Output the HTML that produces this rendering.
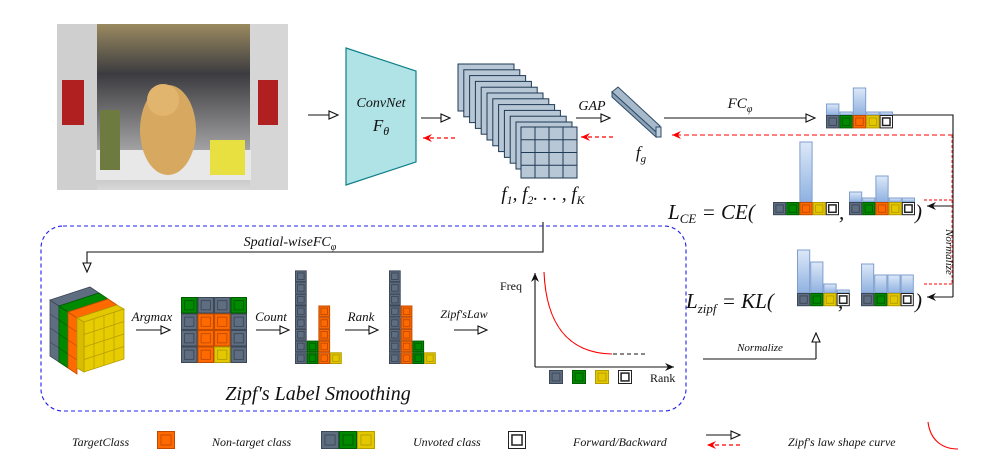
<!DOCTYPE html>
<html><head><meta charset="utf-8">
<style>
html,body{margin:0;padding:0;background:#fff;}
svg{display:block;}
text{font-family:"Liberation Serif",serif;font-style:italic;fill:#111;}
.up{font-style:normal;}
</style></head>
<body>
<svg id="svg" width="989" height="463" viewBox="0 0 989 463" xmlns="http://www.w3.org/2000/svg">
<defs>
<marker id="oa" markerWidth="12" markerHeight="10" refX="10" refY="5" orient="auto" markerUnits="userSpaceOnUse"><path d="M1,1 L10,5 L1,9 Z" fill="#fff" stroke="#111" stroke-width="1.1"/></marker>
<marker id="ra" markerWidth="10" markerHeight="10" refX="9" refY="5" orient="auto" markerUnits="userSpaceOnUse"><path d="M9,5 L0,1 L3,5 L0,9 Z" fill="#f00"/></marker>
<marker id="ba" markerWidth="10" markerHeight="10" refX="9" refY="5" orient="auto" markerUnits="userSpaceOnUse"><path d="M9,5 L0,1 L3,5 L0,9 Z" fill="#111"/></marker>
<linearGradient id="barg" x1="0" y1="0" x2="0" y2="1"><stop offset="0" stop-color="#dce8f8"/><stop offset="1" stop-color="#8fb1e0"/></linearGradient>
<linearGradient id="car" x1="0" y1="0" x2="0" y2="1"><stop offset="0" stop-color="#9a8a60"/><stop offset="0.3" stop-color="#3c3c40"/><stop offset="1" stop-color="#d8d8d8"/></linearGradient>
</defs>

<g>
<rect x="57" y="24" width="231" height="166" fill="url(#car)"/>
<rect x="57" y="24" width="40" height="166" fill="#cfcfcf"/>
<rect x="250" y="24" width="38" height="166" fill="#d6d6d6"/>
<rect x="62" y="80" width="22" height="45" fill="#b02020"/>
<rect x="258" y="80" width="20" height="45" fill="#b02020"/>
<rect x="96" y="150" width="155" height="30" fill="#e8e8e8"/>
<ellipse cx="168" cy="130" rx="28" ry="45" fill="#d7a860"/>
<circle cx="163" cy="100" r="16" fill="#e2b56e"/>
<rect x="210" y="140" width="35" height="35" fill="#e8e040"/>
<rect x="100" y="110" width="20" height="60" fill="#6d7a40"/>
</g>

<line x1="308" y1="115" x2="338" y2="115" stroke="#111" stroke-width="1.1" marker-end="url(#oa)"/>
<polygon points="346,48 416,71 416,162 346,185" fill="#b0e3e6" stroke="#0e8088" stroke-width="1.2"/>
<text x="381" y="107" font-size="14" text-anchor="middle">ConvNet</text>
<text x="381" y="131" font-size="17" text-anchor="middle">F<tspan font-size="12" dy="4">θ</tspan></text>
<line x1="421" y1="118" x2="450" y2="118" stroke="#111" stroke-width="1.1" marker-end="url(#oa)"/>
<line x1="455" y1="138" x2="423" y2="138" stroke="#f00" stroke-width="1.2" stroke-dasharray="4,3" marker-end="url(#ra)"/>

<g id="maps"></g>
<text x="543" y="200" font-size="19" text-anchor="middle">f<tspan font-size="12" dy="4">1</tspan><tspan dy="-4">, f</tspan><tspan font-size="12" dy="4">2</tspan><tspan dy="-4">. . . , f</tspan><tspan font-size="12" dy="4">K</tspan></text>

<text x="592" y="110" font-size="14" text-anchor="middle">GAP</text>
<line x1="576" y1="118" x2="610" y2="118" stroke="#111" stroke-width="1.1" marker-end="url(#oa)"/>
<line x1="613" y1="137" x2="581" y2="137" stroke="#f00" stroke-width="1.2" stroke-dasharray="4,3" marker-end="url(#ra)"/>
<g stroke="#2f4b66" stroke-width="1">
<polygon points="612,92 618,87 660,126 656,132" fill="#a7bacb"/>
<polygon points="612,92 656,132 656,137 612,97" fill="#8da3b8"/>
<polygon points="656,127 661,127 661,137 656,137" fill="#c0d0de"/>
</g>
<text x="641" y="158" font-size="17" text-anchor="middle">f<tspan font-size="11" dy="4">g</tspan></text>

<text x="740" y="108" font-size="15" text-anchor="middle">FC<tspan font-size="10" dy="4">φ</tspan></text>
<line x1="664" y1="118" x2="815" y2="118" stroke="#111" stroke-width="1.1" marker-end="url(#oa)"/>
<line x1="953" y1="135" x2="672" y2="135" stroke="#f33" stroke-width="1.3" stroke-dasharray="5,3" marker-end="url(#ra)"/>
<polyline points="893,115 953,115 953,297" fill="none" stroke="#111" stroke-width="1.1"/>
<line x1="953" y1="206" x2="927" y2="206" stroke="#111" stroke-width="1.1" marker-end="url(#ba)"/>
<line x1="953" y1="297" x2="927" y2="297" stroke="#111" stroke-width="1.1" marker-end="url(#ba)"/>
<line x1="924" y1="200" x2="953" y2="200" stroke="#f33" stroke-width="1.2" stroke-dasharray="3,2"/>
<line x1="924" y1="284" x2="953" y2="284" stroke="#f33" stroke-width="1.2" stroke-dasharray="3,2"/>
<line x1="952" y1="135" x2="952" y2="284" stroke="#f33" stroke-width="1" stroke-dasharray="3,2"/>
<text transform="translate(946,252) rotate(90)" font-size="11" text-anchor="middle">Normalize</text>

<text x="668" y="219" font-size="21">L<tspan font-size="13" dy="4">CE</tspan><tspan dy="-4"> = CE(</tspan></text>
<text x="839" y="219" font-size="21">,</text>
<text x="915" y="219" font-size="21">)</text>
<text x="686" y="308" font-size="21">L<tspan font-size="13" dy="5">zipf</tspan><tspan dy="-5"> = KL(</tspan></text>
<text x="838" y="308" font-size="21">,</text>
<text x="915" y="308" font-size="21">)</text>

<rect x="41" y="226" width="645" height="185" rx="22" fill="none" stroke="#2020ee" stroke-width="1.1" stroke-dasharray="4,3"/>
<polyline points="543,222 543,252 87,252 87,272" fill="none" stroke="#111" stroke-width="1.1" marker-end="url(#oa)"/>
<text x="290" y="246" font-size="14" text-anchor="middle">Spatial-wiseFC<tspan font-size="10" dy="4">φ</tspan></text>

<g id="cube"></g>
<text x="152" y="321" font-size="13" text-anchor="middle">Argmax</text>
<line x1="136" y1="330" x2="170" y2="330" stroke="#111" stroke-width="1.1" marker-end="url(#oa)"/>
<g id="grid"></g>
<text x="271" y="321" font-size="13" text-anchor="middle">Count</text>
<line x1="256" y1="330" x2="289" y2="330" stroke="#111" stroke-width="1.1" marker-end="url(#oa)"/>
<g id="counts"></g>
<text x="361" y="321" font-size="13" text-anchor="middle">Rank</text>
<line x1="345" y1="330" x2="378" y2="330" stroke="#111" stroke-width="1.1" marker-end="url(#oa)"/>
<g id="ranked"></g>
<text x="464" y="318" font-size="12" text-anchor="middle">Zipf′sLaw</text>
<line x1="454" y1="330" x2="487" y2="330" stroke="#111" stroke-width="1.1" marker-end="url(#oa)"/>

<line x1="535" y1="367" x2="535" y2="273" stroke="#111" stroke-width="1.1" marker-end="url(#ba)"/>
<line x1="535" y1="367" x2="674" y2="367" stroke="#111" stroke-width="1.1" marker-end="url(#ba)"/>
<text class="up" x="500" y="290" font-size="12">Freq</text>
<text class="up" x="650" y="382" font-size="12">Rank</text>
<path d="M544,272 C546,320 565,353 612,354" fill="none" stroke="#f00" stroke-width="1.1"/>
<line x1="613" y1="354" x2="646" y2="354" stroke="#111" stroke-width="1" stroke-dasharray="4,3"/>
<g id="rankSq"></g>

<text x="318" y="400" font-size="20" text-anchor="middle">Zipf′s Label Smoothing</text>
<line x1="703" y1="359" x2="816" y2="359" stroke="#111" stroke-width="1.1"/>
<line x1="816" y1="359" x2="816" y2="333" stroke="#111" stroke-width="1.1" marker-end="url(#oa)"/>
<text x="760" y="351" font-size="11" text-anchor="middle">Normalize</text>

<g id="bars"></g>

<text x="72" y="446" font-size="12">TargetClass</text>
<text x="212" y="446" font-size="12">Non-target class</text>
<text x="413" y="446" font-size="12">Unvoted class</text>
<text x="573" y="446" font-size="12">Forward/Backward</text>
<line x1="706" y1="435" x2="740" y2="435" stroke="#111" stroke-width="1.1" marker-end="url(#oa)"/>
<line x1="740" y1="445" x2="707" y2="445" stroke="#f00" stroke-width="1.2" stroke-dasharray="4,3" marker-end="url(#ra)"/>
<text x="788" y="446" font-size="12">Zipf′s law shape curve</text>
<path d="M928,422 C930,438 940,449 958,449" fill="none" stroke="#f00" stroke-width="1.1"/>
<g id="legendSq"></g>
</svg>
<script>
var COL = {S:["#5e6d80","#3c4757"],G:["#008a00","#005a00"],O:["#ff6a00","#c04a00"],Y:["#e3c800","#b49c00"],W:["#ffffff","#222222"]};
var fcClasses = ["S","G","O","Y","W"];
var fcHeights = [11, 3, 27, 3, 3];
var ceTargetHeights = [0, 0, 60, 0, 0];
var ceSmoothHeights = [10, 4, 26, 4, 4];
var klClasses = ["S","G","Y","W"];
var klPredHeights = [43, 31, 9, 3];
var klZipfHeights = [29, 18, 18, 18];
var gridRows = [["G","S","S","G"],["S","O","O","S"],["S","O","O","S"],["S","O","Y","S"]];
var countClasses = ["S","G","O","Y"];
var countValues = [8, 2, 5, 1];
var layers = ["S","G","O","Y"];
var NS="http://www.w3.org/2000/svg";
function mk(tag, parent, attrs){var e=document.createElementNS(NS,tag);for(var k in attrs)e.setAttribute(k,attrs[k]);parent.appendChild(e);return e;}
function sq(parent,x,y,s,c){
  var g=mk("g",parent,{});
  
  
  var p=COL[c];
  mk("rect",g,{x:x+0.5,y:y+0.5,width:s-1,height:s-1,fill:p[0],stroke:p[1],"stroke-width":1});
  var m=s*0.22;
  mk("rect",g,{x:x+m,y:y+m,width:s-2*m,height:s-2*m,fill:"none",stroke:p[1],"stroke-width":c=="W"?1.5:0.9});
}
var maps=document.getElementById("maps");
for(var i=0;i<11;i++){
  var x=458+i*5.8,y=64+i*5.8;
  var r=mk("rect",maps,{x:x,y:y,width:56,height:47,fill:"#b8c7d5",stroke:"#1e3a54","stroke-width":1});
  
  
}
var fx=521,fy=127;
var fr=mk("rect",maps,{x:fx,y:fy,width:56,height:51,fill:"#b8c7d5",stroke:"#1e3a54","stroke-width":1});


for(var k=1;k<4;k++){mk("line",maps,{x1:fx+k*14,y1:fy,x2:fx+k*14,y2:fy+51,stroke:"#1e3a54"});mk("line",maps,{x1:fx,y1:fy+k*12.75,x2:fx+56,y2:fy+k*12.75,stroke:"#1e3a54"});}
var cube=document.getElementById("cube");
(function(){
  var P=COL;
  for(var L=0;L<3;L++){
    var c=P[layers[L]];
    var x0=50+L*9, y0=300+L*6;
    mk("polygon",cube,{points:x0+","+y0+" "+(x0+9)+","+(y0+6)+" "+(x0+9)+","+(y0+62)+" "+x0+","+(y0+56),fill:c[0],stroke:c[1],"stroke-width":0.8});
    for(var j=1;j<4;j++)mk("line",cube,{x1:x0,y1:y0+j*14,x2:x0+9,y2:y0+6+j*14,stroke:c[1],"stroke-width":0.7});
    mk("polygon",cube,{points:x0+","+y0+" "+(x0+40)+","+(y0-13)+" "+(x0+49)+","+(y0-7)+" "+(x0+9)+","+(y0+6),fill:c[0],stroke:c[1],"stroke-width":0.8});
  }
  var y=P.Y; var X=77,Y=318;
  mk("polygon",cube,{points:X+","+Y+" "+(X+40)+","+(Y-13)+" "+(X+47)+","+(Y-9)+" "+(X+7)+","+(Y+4),fill:y[0],stroke:y[1],"stroke-width":0.8});
  mk("polygon",cube,{points:(X+7)+","+(Y+4)+" "+(X+47)+","+(Y-9)+" "+(X+47)+","+(Y+41)+" "+(X+7)+","+(Y+54),fill:"#e6cc00",stroke:y[1],"stroke-width":0.8});
  mk("polygon",cube,{points:X+","+Y+" "+(X+7)+","+(Y+4)+" "+(X+7)+","+(Y+54)+" "+X+","+(Y+50),fill:"#d8bc00",stroke:y[1],"stroke-width":0.8});
  for(var j=1;j<4;j++){
    mk("line",cube,{x1:X+7+j*10,y1:Y+4-j*3.25,x2:X+7+j*10,y2:Y+54-j*3.25,stroke:y[1],"stroke-width":0.7});
    mk("line",cube,{x1:X+7,y1:Y+4+j*12.5,x2:X+47,y2:Y-9+j*12.5,stroke:y[1],"stroke-width":0.7});
  }
})();
var grid=document.getElementById("grid");
for(var r2=0;r2<4;r2++)for(var c2=0;c2<4;c2++)sq(grid,181+c2*16.5,297+r2*16.5,16.5,gridRows[r2][c2]);
function hist(id,x0,order){
  var g=document.getElementById(id);var w=11.7;
  for(var i=0;i<order.length;i++){var cls=countClasses[order[i]],n=countValues[order[i]];
    for(var j=0;j<n;j++)sq(g,x0+i*w,364-(j+1)*w,w,cls);}
}
hist("counts",295,[0,1,2,3]);
var idx=[0,1,2,3].sort(function(a,b){return countValues[b]-countValues[a];});
hist("ranked",389,idx);
var rs=document.getElementById("rankSq");
["S","G","Y","W"].forEach(function(c,i){sq(rs,549+i*23,370,14,c);});
var ls=document.getElementById("legendSq");
sq(ls,157,431,18,"O");
["S","G","Y"].forEach(function(c,i){sq(ls,321+i*18,431,18,c);});
sq(ls,508,431,18,"W");
var bars=document.getElementById("bars");
function group(x0,ySq,w,classes,heights){
  for(var i=0;i<classes.length;i++){
    var h=heights[i];
    if(h>0){var b=mk("rect",bars,{x:x0+i*w+0.5,y:ySq-h,width:w-1,height:h,fill:"url(#barg)",stroke:"#7f9fcf","stroke-width":1});
      
      }
    sq(bars,x0+i*w,ySq,w,classes[i]);
  }
}
group(826,115,13.4,fcClasses,fcHeights);
group(773,202,13.2,fcClasses,ceTargetHeights);
group(849,202,13.2,fcClasses,ceSmoothHeights);
group(797,293,13.2,klClasses,klPredHeights);
group(861,293,13.2,klClasses,klZipfHeights);
</script>
</body></html>
